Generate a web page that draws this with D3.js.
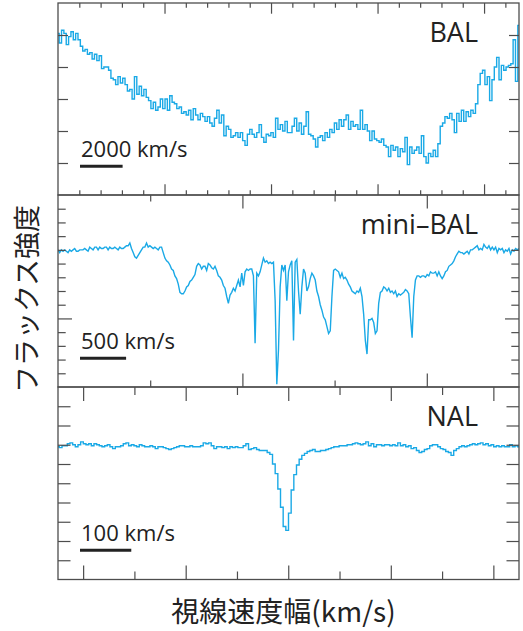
<!DOCTYPE html>
<html><head><meta charset="utf-8">
<script src="https://cdn.jsdelivr.net/npm/d3@7"></script>
<style>body{margin:0;background:#fff;}svg{display:block;}</style>
</head><body>
<svg id="c" width="523" height="631"></svg>
<script>
// ---------------- data ----------------
const panelLabels = ["BAL", "mini\u2013BAL", "NAL"];
const scaleBarLabels = ["2000 km/s", "500 km/s", "100 km/s"];
const scaleBarKms = [2000, 500, 100];
const yAxisTitle = "フラックス強度";
const xAxisTitle = "視線速度幅(km/s)";

// velocity ranges of each panel (km/s)
const balVelocityRange = [0, 21640];
const miniBalVelocityRange = [0, 5000];
const nalVelocityRange = [-449, 450];

// normalised flux ranges
const balFluxRange = [0, 1.2];
const miniBalFluxRange = [0, 1.4];
const nalFluxRange = [-0.4, 1.6];

// tick values
const balVelTicks = [1000,2000,3000,4000,5000,6000,7000,8000,9000,10000,11000,12000,13000,14000,15000,16000,17000,18000,19000,20000,21000];
const balVelMajor = [5000,10000,15000,20000];
const balFluxTicks = [0.2,0.4,0.6,0.8,1.0];
const miniBalVelTicks = [1000,2000,3000,4000];
const miniBalVelMajor = [2000,4000];
const miniBalFluxTicks = [0.1,0.2,0.3,0.4,0.5,0.6,0.7,0.8,0.9,1.0,1.1,1.2,1.3];
const miniBalFluxMajor = [0.5];
const nalVelTicks = [-400,-300,-200,-100,0,100,200,300,400];
const nalVelMajor = [-400,-200,0,200,400];
const nalFluxTicks = [-0.2,0,0.2,0.4,0.6,0.8,1.0,1.2,1.4];

const balFlux = [
1.01,0.95,1.03,1.01,0.94,0.99,1.02,0.97,1.01,0.97,
0.93,0.90,0.91,0.88,0.89,0.85,0.88,0.84,0.87,0.79,
0.80,0.80,0.78,0.73,0.72,0.69,0.74,0.70,0.73,0.69,
0.65,0.66,0.60,0.74,0.63,0.68,0.62,0.66,0.61,0.59,
0.54,0.58,0.53,0.55,0.60,0.54,0.60,0.53,0.62,0.58,
0.57,0.54,0.55,0.51,0.52,0.50,0.53,0.47,0.54,0.50,
0.47,0.51,0.49,0.46,0.49,0.45,0.43,0.48,0.53,0.45,
0.50,0.37,0.43,0.41,0.36,0.37,0.39,0.36,0.39,0.34,
0.31,0.38,0.41,0.38,0.36,0.39,0.44,0.36,0.33,0.38,
0.37,0.39,0.36,0.48,0.41,0.44,0.40,0.46,0.39,0.39,
0.43,0.48,0.40,0.45,0.38,0.43,0.52,0.38,0.37,0.35,
0.30,0.36,0.37,0.34,0.39,0.36,0.41,0.39,0.45,0.41,
0.47,0.43,0.47,0.50,0.41,0.46,0.43,0.44,0.41,0.53,
0.41,0.44,0.40,0.34,0.40,0.35,0.34,0.33,0.35,0.31,
0.30,0.24,0.31,0.28,0.30,0.24,0.29,0.27,0.36,0.19,
0.30,0.26,0.28,0.30,0.26,0.37,0.24,0.20,0.26,0.24,
0.28,0.24,0.32,0.43,0.45,0.49,0.48,0.51,0.47,0.39,
0.51,0.46,0.53,0.46,0.52,0.49,0.53,0.51,0.57,0.69,
0.76,0.78,0.69,0.74,0.59,0.72,0.80,0.86,0.72,0.81,
0.78,0.80,0.81,0.82,0.97,0.71,1.06
];

const miniBalFlux = [
1.00,0.98,1.00,0.99,1.00,0.99,0.98,1.00,0.99,1.00,
1.01,0.99,0.99,1.00,1.00,1.00,1.01,1.00,0.99,1.02,
1.01,1.00,1.02,1.02,1.00,1.02,1.01,1.01,1.02,1.02,
1.00,1.02,1.01,1.01,1.02,1.01,1.00,1.02,1.01,1.01,
1.02,1.03,1.03,1.05,1.01,0.98,0.95,0.94,0.96,0.98,
1.00,1.02,1.02,1.05,1.02,1.03,1.02,1.01,1.02,1.01,
1.00,1.02,1.02,0.98,0.94,0.92,0.91,0.89,0.86,0.85,
0.81,0.79,0.75,0.69,0.68,0.68,0.70,0.73,0.74,0.77,
0.78,0.80,0.82,0.88,0.90,0.89,0.86,0.88,0.88,0.85,
0.90,0.89,0.87,0.86,0.88,0.85,0.81,0.80,0.78,0.74,
0.72,0.66,0.61,0.67,0.69,0.72,0.70,0.74,0.78,0.73,
0.83,0.74,0.84,0.86,0.85,0.86,0.86,0.81,0.32,0.83,
0.81,0.84,0.89,0.94,0.91,0.92,0.90,0.91,0.90,0.91,
0.63,0.02,0.27,0.73,0.89,0.85,0.89,0.63,0.84,0.89,
0.92,0.34,0.91,0.93,0.70,0.53,0.73,0.86,0.83,0.70,
0.73,0.79,0.83,0.81,0.78,0.70,0.66,0.60,0.56,0.51,
0.49,0.44,0.39,0.41,0.66,0.85,0.86,0.85,0.84,0.80,
0.83,0.79,0.80,0.78,0.75,0.73,0.70,0.69,0.68,0.70,
0.69,0.72,0.66,0.53,0.34,0.24,0.49,0.49,0.50,0.47,
0.39,0.41,0.61,0.69,0.70,0.73,0.72,0.70,0.72,0.69,
0.70,0.68,0.70,0.66,0.68,0.67,0.68,0.69,0.71,0.70,
0.68,0.51,0.36,0.66,0.78,0.81,0.81,0.80,0.81,0.81,
0.80,0.82,0.81,0.84,0.83,0.83,0.84,0.81,0.84,0.81,
0.79,0.81,0.84,0.85,0.88,0.89,0.90,0.92,0.95,0.97,
0.99,0.98,0.98,0.97,0.98,0.99,0.97,1.00,1.00,1.01,
1.02,1.03,1.00,1.01,1.00,1.04,1.02,1.01,1.03,1.00,
1.02,1.00,1.02,0.98,1.01,1.00,1.01,0.98,1.00,0.99,
1.01,0.97,1.00,0.99,1.01,1.00,1.01
];

const nalFlux = [
0.98,0.97,0.99,0.99,1.01,1.02,1.00,0.98,1.00,1.03,
1.01,1.00,1.01,0.99,1.01,1.00,0.99,0.98,0.99,1.00,
0.98,0.96,0.98,0.98,0.99,1.01,1.02,0.99,1.00,0.99,
0.98,1.00,0.99,0.98,0.98,0.99,0.98,0.96,0.98,0.98,
0.97,0.96,0.95,0.96,0.97,0.98,0.99,0.99,0.98,0.98,
0.99,0.98,0.98,0.98,0.99,1.02,1.01,1.02,0.99,0.96,
0.98,0.98,0.97,0.98,0.96,0.98,0.97,0.98,0.97,0.97,
0.99,1.01,0.95,0.96,0.97,0.95,0.94,0.94,0.94,0.92,
0.90,0.80,0.70,0.54,0.35,0.15,0.11,0.29,0.53,0.69,
0.79,0.85,0.89,0.91,0.93,0.94,0.95,0.93,0.93,0.94,
0.94,0.95,0.96,0.97,0.98,0.98,0.99,0.99,0.99,1.00,
1.00,1.01,1.02,1.01,1.00,1.01,1.03,0.99,1.01,0.98,
1.00,1.00,0.99,1.00,1.00,0.99,1.00,0.99,1.02,0.99,
1.00,0.98,0.99,0.96,0.97,0.94,0.92,0.93,0.95,0.96,
0.99,1.00,1.00,0.98,0.96,0.95,0.93,0.92,0.89,0.94,
0.96,0.98,0.99,0.98,0.99,1.00,1.01,1.00,1.01,1.02,
1.00,1.01,0.99,1.00,0.98,0.99,0.98,0.99,0.98,0.98,
1.00,0.98,0.99,0.98
];

// ---------------- layout ----------------
const left = 58, right = 519;
const edges = [3, 195, 387, 579.5];
const INK = "#4d4d4d";
const LINE = "#1aa9e6";
const TEXT = "#222";

const panels = [
  {flux: balFlux, vr: balVelocityRange, fr: balFluxRange, vt: balVelTicks, vm: balVelMajor, vLen: [4.7, 10.7],
   ft: balFluxTicks, fm: [], fLen: [10, 10], curve: d3.curveStep},
  {flux: miniBalFlux, vr: miniBalVelocityRange, fr: miniBalFluxRange, vt: miniBalVelTicks, vm: miniBalVelMajor, vLen: [6.5, 13.5],
   ft: miniBalFluxTicks, fm: miniBalFluxMajor, fLen: [7.7, 14], curve: d3.curveLinear},
  {flux: nalFlux, vr: nalVelocityRange, fr: nalFluxRange, vt: nalVelTicks, vm: nalVelMajor, vLen: [8, 14],
   ft: nalFluxTicks, fm: [], fLen: [12.5, 12.5], curve: d3.curveStep}
];

const svg = d3.select("#c");

panels.forEach((p, k) => {
  const top = edges[k], bottom = edges[k + 1];
  const x = d3.scaleLinear().domain(p.vr).range([left, right]);
  const y = d3.scaleLinear().domain(p.fr).range([bottom, top]);
  const g = svg.append("g");

  // clip
  const cid = "clip" + k;
  svg.append("clipPath").attr("id", cid).append("rect")
    .attr("x", left).attr("y", top).attr("width", right - left).attr("height", bottom - top);

  // velocity grid of the spectrum bins
  const n = p.flux.length;
  const vel = x.copy().domain([0, n - 1]).range(p.vr);
  const pts = p.flux.map((f, i) => [vel(i), f]);
  g.append("path")
    .attr("clip-path", `url(#${cid})`)
    .attr("d", d3.line().x(d => x(d[0])).y(d => y(d[1])).curve(p.curve)(pts))
    .attr("fill", "none").attr("stroke", LINE).attr("stroke-width", 1.4).attr("stroke-linejoin", "miter");

  // axes (ticks pointing inward)
  const minorV = p.vt.filter(v => !p.vm.includes(v));
  const minorF = p.ft.filter(v => !p.fm.includes(v));
  const styleAxis = sel => {
    sel.select(".domain").remove();
    sel.selectAll("line").attr("stroke", INK).attr("stroke-width", 1.2);
    sel.selectAll("text").remove();
  };
  const addAxis = (axisFn, scale, vals, len, transform) => {
    if (!vals.length) return;
    g.append("g").attr("transform", transform)
      .call(axisFn(scale).tickValues(vals).tickSize(-len).tickFormat(""))
      .call(styleAxis);
  };
  addAxis(d3.axisBottom, x, minorV, p.vLen[0], `translate(0,${bottom})`);
  addAxis(d3.axisBottom, x, p.vm, p.vLen[1], `translate(0,${bottom})`);
  addAxis(d3.axisTop, x, minorV, p.vLen[0], `translate(0,${top})`);
  addAxis(d3.axisTop, x, p.vm, p.vLen[1], `translate(0,${top})`);
  addAxis(d3.axisLeft, y, minorF, p.fLen[0], `translate(${left},0)`);
  addAxis(d3.axisLeft, y, p.fm, p.fLen[1], `translate(${left},0)`);
  addAxis(d3.axisRight, y, minorF, p.fLen[0], `translate(${right},0)`);
  addAxis(d3.axisRight, y, p.fm, p.fLen[1], `translate(${right},0)`);

  // frame
  g.append("rect").attr("x", left).attr("y", top).attr("width", right - left).attr("height", bottom - top)
    .attr("fill", "none").attr("stroke", INK).attr("stroke-width", 1.3);

  // panel label
  g.append("text").attr("x", 478).attr("y", top + 38.5).attr("text-anchor", "end")
    .attr("font-family", "'Open Sans', 'Noto Sans', sans-serif").attr("font-size", 27)
    .attr("fill", TEXT).text(panelLabels[k]);

  // scale bar
  const barX0 = 80;
  const barLen = x(p.vr[0] + scaleBarKms[k]) - x(p.vr[0]);
  g.append("line").attr("x1", barX0).attr("x2", barX0 + barLen)
    .attr("y1", top + 163.3).attr("y2", top + 163.3)
    .attr("stroke", TEXT).attr("stroke-width", 3);
  g.append("text").attr("x", 81).attr("y", top + 153.7)
    .attr("font-family", "'Open Sans', 'Noto Sans', sans-serif").attr("font-size", 22)
    .attr("fill", TEXT).text(scaleBarLabels[k]);
});

// axis titles
svg.append("text")
  .attr("transform", "translate(25,299) rotate(-90)")
  .attr("text-anchor", "middle").attr("dominant-baseline", "central")
  .attr("font-family", "'Noto Sans CJK JP', sans-serif").attr("font-size", 27)
  .attr("fill", TEXT).text(yAxisTitle);

svg.append("text")
  .attr("x", 283.5).attr("y", 622).attr("text-anchor", "middle")
  .attr("font-family", "'Noto Sans CJK JP', sans-serif").attr("font-size", 28)
  .attr("fill", TEXT).text(xAxisTitle);
</script>
</body></html>
